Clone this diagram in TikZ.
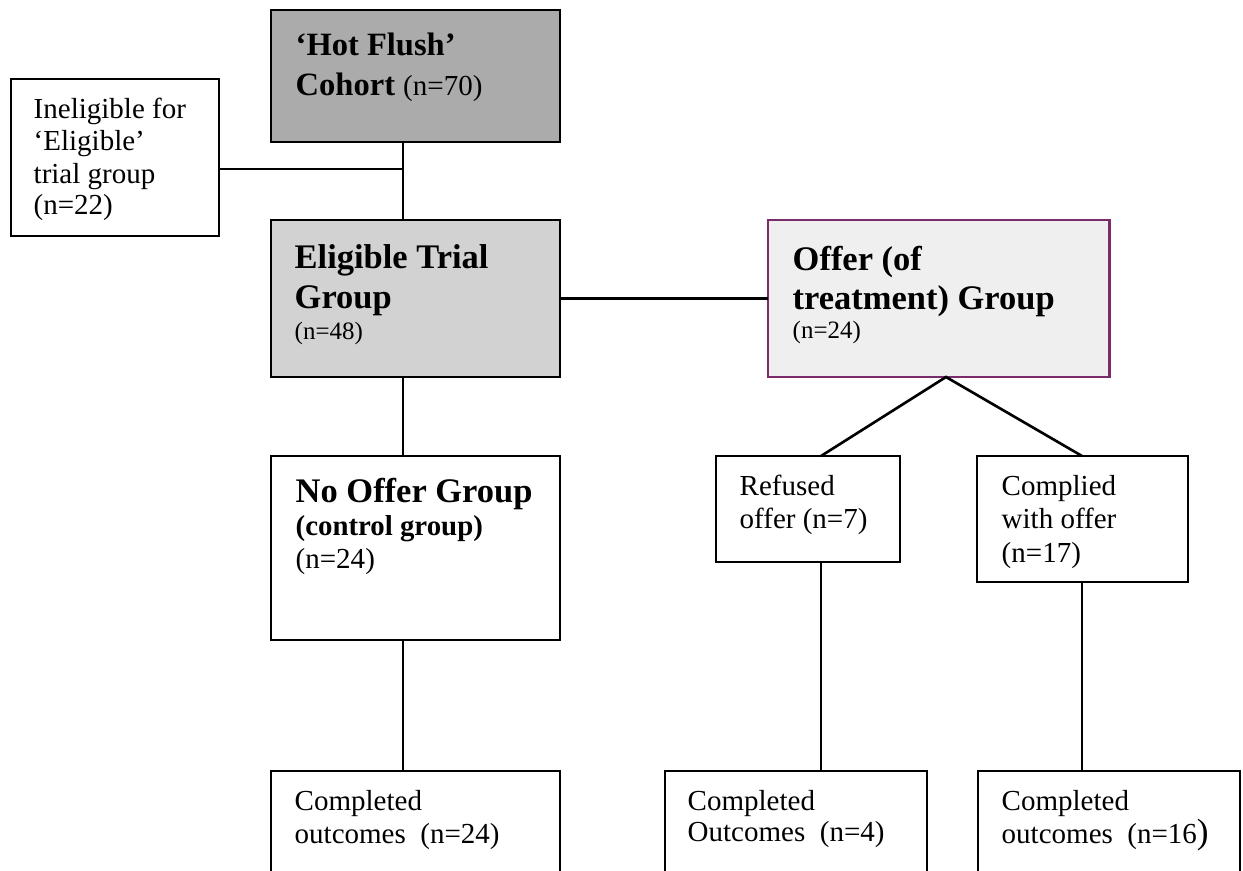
\documentclass[tikz,border=0pt]{standalone}
\usepackage{fontspec}
\setmainfont{Liberation Serif}
\definecolor{hotgray}{HTML}{ABABAB}
\definecolor{eliggray}{HTML}{D2D2D2}
\definecolor{offergray}{HTML}{EFEFEF}
\definecolor{offerborder}{HTML}{7A2C6A}
\tikzset{
  box/.style={draw=black, line width=0.75pt, inner sep=0pt, outer sep=0pt, anchor=north west},
  conn/.style={draw=black, line width=0.75pt},
  txt/.style={inner sep=0pt, anchor=base west, font=\fontsize{8.25}{9.5}\selectfont},
  ttl/.style={inner sep=0pt, anchor=base west, font=\fontsize{9.8}{11}\selectfont\bfseries},
}
\begin{document}
\begin{tikzpicture}[x=0.01cm, y=-0.01cm]
\useasboundingbox (0,0) rectangle (1243,870);
\clip (0,0) rectangle (1243,870);
% boxes
\node[box, fill=hotgray, minimum width=2.89cm, minimum height=1.32cm] (hot) at (271,10) {};
\node[box, fill=white, minimum width=2.08cm, minimum height=1.57cm] (inel) at (11,79) {};
\node[box, fill=eliggray, minimum width=2.89cm, minimum height=1.57cm] (elig) at (271,220) {};
\node[box, draw=offerborder, fill=offergray, minimum width=3.41cm, minimum height=1.57cm] (offer) at (768,220) {};
\node[box, fill=white, minimum width=2.89cm, minimum height=1.84cm] (nooffer) at (271,456) {};
\node[box, fill=white, minimum width=1.84cm, minimum height=1.06cm] (refused) at (716,456) {};
\node[box, fill=white, minimum width=2.11cm, minimum height=1.26cm] (complied) at (977,456) {};
\node[box, fill=white, minimum width=2.89cm, minimum height=1.50cm] (compA) at (271,771) {};
\node[box, fill=white, minimum width=2.62cm, minimum height=1.50cm] (compB) at (665,771) {};
\node[box, fill=white, minimum width=2.62cm, minimum height=1.50cm] (compC) at (978,771) {};
% connector junctions
\coordinate (spine) at (403,169);
\coordinate (apex) at (946,377);
\coordinate (refx) at (821,0);
\coordinate (comx) at (1082,0);
% connectors
\draw[conn] (hot.south -| spine) -- (elig.north -| spine);
\draw[conn] (inel.east |- spine) -- (spine);
\draw[conn] (elig.east) -- (offer.west);
\draw[conn] (elig.south -| spine) -- (nooffer.north -| spine);
\draw[conn] (refused.north -| refx) -- (apex) -- (complied.north -| comx);
\draw[conn] (nooffer.south -| spine) -- (compA.north -| spine);
\draw[conn] (refused.south -| refx) -- (compB.north -| refx);
\draw[conn] (complied.south -| comx) -- (compC.north -| comx);
% texts
\node[ttl, font=\fontsize{9.25}{11}\selectfont\bfseries] (hotA) at (295,56) {‘Hot Flush’};
\node[ttl, font=\fontsize{9.25}{11}\selectfont\bfseries] (hotB) at (295,96) {Cohort {\mdseries\fontsize{8.25}{9.5}\selectfont (n=70)}};
\node[txt] (inelA) at (33,119) {Ineligible for};
\node[txt] (inelB) at (33,151) {‘Eligible’};
\node[txt] (inelC) at (33,183) {trial group};
\node[txt] (inelD) at (33,215) {(n=22)};
\node[ttl] (eligA) at (294,268) {Eligible Trial};
\node[ttl] (eligB) at (294,308) {Group};
\node[txt, font=\fontsize{7.1}{8.5}\selectfont] (eligC) at (294,339) {(n=48)};
\node[ttl] (offerA) at (792,270) {Offer (of};
\node[ttl] (offerB) at (792,309) {treatment) Group};
\node[txt, font=\fontsize{7.1}{8.5}\selectfont] (offerC) at (792,338) {(n=24)};
\node[ttl] (noA) at (295,502) {No Offer Group};
\node[ttl, font=\fontsize{8.2}{9.5}\selectfont\bfseries] (noB) at (295,535) {(control group)};
\node[txt] (noC) at (295,568) {(n=24)};
\node[txt] (refA) at (739,495) {Refused};
\node[txt] (refB) at (739,528) {offer (n=7)};
\node[txt] (comA) at (1001,495) {Complied};
\node[txt] (comB) at (1001,528) {with offer};
\node[txt] (comC) at (1001,562) {(n=17)};
\node[txt] (cAa) at (294,810) {Completed};
\node[txt] (cAb) at (294,843) {outcomes\ \ (n=24)};
\node[txt] (cBa) at (687,810) {Completed};
\node[txt] (cBb) at (687,841) {Outcomes\ \ (n=4)};
\node[txt] (cCa) at (1001,810) {Completed};
\node[txt] (cCb) at (1001,843) {outcomes\ \ (n=16{\fontsize{10}{11}\selectfont )}};
\end{tikzpicture}
\end{document}
